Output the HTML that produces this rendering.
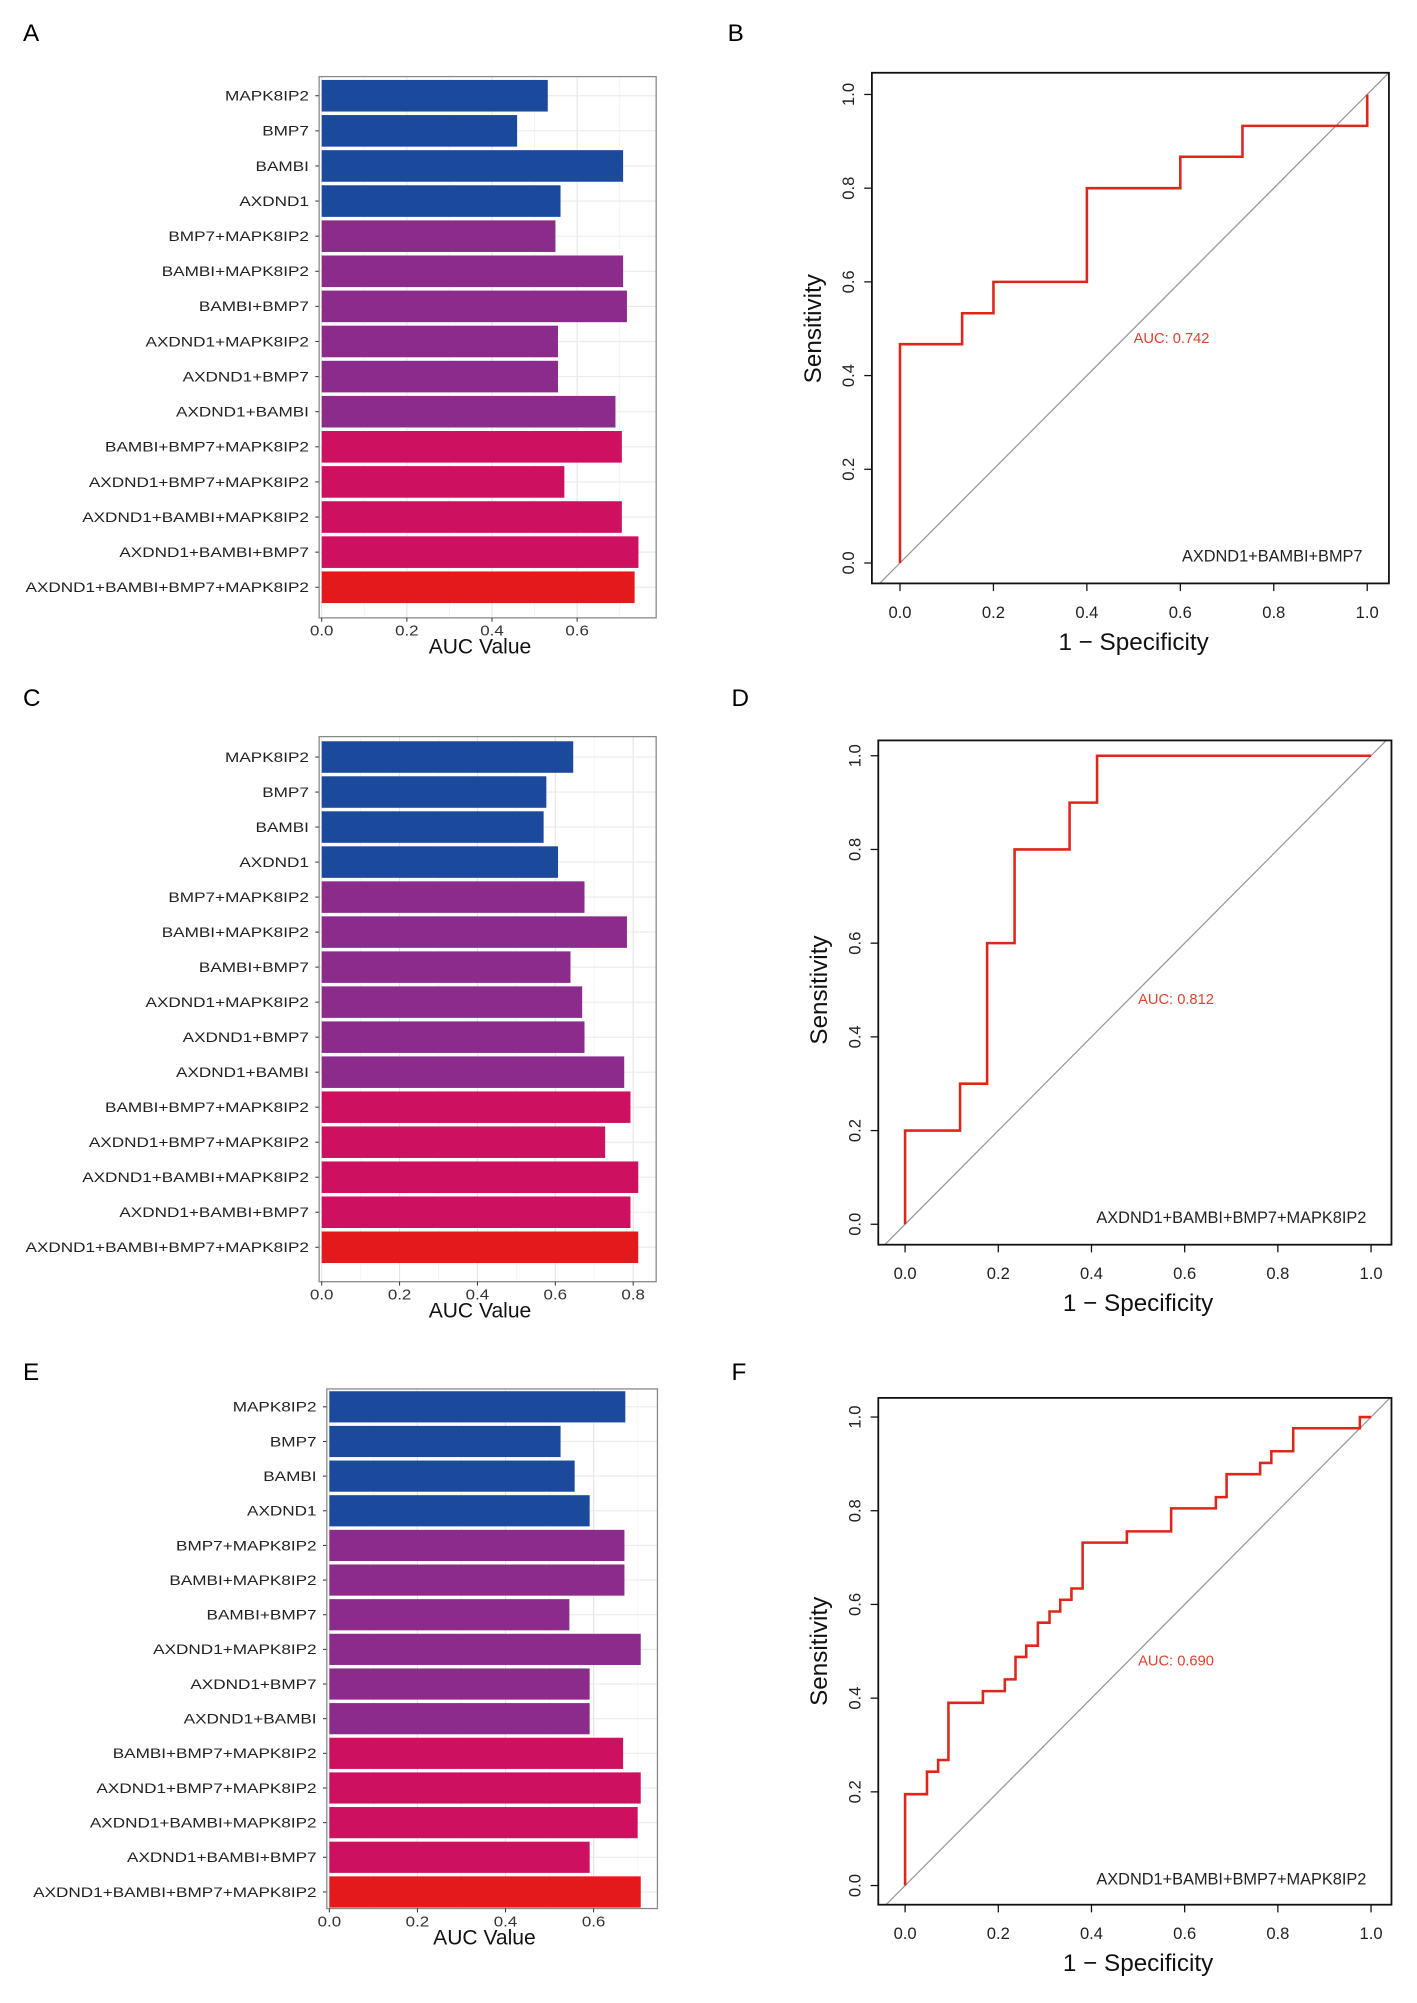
<!DOCTYPE html>
<html><head><meta charset="utf-8"><style>
html,body{margin:0;padding:0;background:#fff;}
svg{display:block;font-family:"Liberation Sans",Arial,sans-serif;}
</style></head><body>
<svg id="fig" width="1417" height="2003" viewBox="0 0 1110 1569" preserveAspectRatio="none" xmlns="http://www.w3.org/2000/svg">
<rect width="1110" height="1569" fill="#fff"/>
<text x="18" y="32" font-size="19">A</text>
<text x="570" y="32" font-size="19">B</text>
<text x="18" y="553" font-size="19">C</text>
<text x="573" y="553" font-size="19">D</text>
<text x="18" y="1081" font-size="19">E</text>
<text x="573" y="1081" font-size="19">F</text>
</svg>
<script>
const categories = ["MAPK8IP2","BMP7","BAMBI","AXDND1","BMP7+MAPK8IP2","BAMBI+MAPK8IP2","BAMBI+BMP7","AXDND1+MAPK8IP2","AXDND1+BMP7","AXDND1+BAMBI","BAMBI+BMP7+MAPK8IP2","AXDND1+BMP7+MAPK8IP2","AXDND1+BAMBI+MAPK8IP2","AXDND1+BAMBI+BMP7","AXDND1+BAMBI+BMP7+MAPK8IP2"];
const groupOfCategory = [0,0,0,0,1,1,1,1,1,1,2,2,2,2,3];
const aucA = [0.531,0.459,0.708,0.561,0.549,0.708,0.717,0.555,0.555,0.690,0.705,0.570,0.705,0.744,0.735];
const aucC = [0.646,0.577,0.570,0.607,0.675,0.784,0.639,0.669,0.675,0.777,0.793,0.728,0.813,0.793,0.813];
const aucE = [0.672,0.525,0.557,0.591,0.670,0.670,0.545,0.707,0.591,0.591,0.667,0.707,0.700,0.591,0.707];
const barTicksA = [0,0.2,0.4,0.6];
const barTicksC = [0,0.2,0.4,0.6,0.8];
const barTicksE = [0,0.2,0.4,0.6];
const rocFprB = [0,0,0.133,0.133,0.2,0.2,0.4,0.4,0.6,0.6,0.733,0.733,1,1];
const rocTprB = [0,0.467,0.467,0.533,0.533,0.6,0.6,0.8,0.8,0.867,0.867,0.933,0.933,1];
const rocFprD = [0,0,0.118,0.118,0.176,0.176,0.235,0.235,0.353,0.353,0.412,0.412,1];
const rocTprD = [0,0.2,0.2,0.3,0.3,0.6,0.6,0.8,0.8,0.9,0.9,1,1];
const rocFprF = [0,0,0.047,0.047,0.071,0.071,0.093,0.093,0.167,0.167,0.214,0.214,0.237,0.237,0.26,0.26,0.285,0.285,0.31,0.31,0.333,0.333,0.357,0.357,0.381,0.381,0.476,0.476,0.571,0.571,0.667,0.667,0.69,0.69,0.762,0.762,0.786,0.786,0.833,0.833,0.976,0.976,1];
const rocTprF = [0,0.195,0.195,0.243,0.243,0.268,0.268,0.39,0.39,0.415,0.415,0.44,0.44,0.488,0.488,0.512,0.512,0.561,0.561,0.585,0.585,0.61,0.61,0.634,0.634,0.732,0.732,0.756,0.756,0.805,0.805,0.829,0.829,0.878,0.878,0.902,0.902,0.927,0.927,0.976,0.976,1,1];
const rocTicks = [0,0.2,0.4,0.6,0.8,1.0];
const aucLabels = ["AUC: 0.742","AUC: 0.812","AUC: 0.690"];
const modelLabels = ["AXDND1+BAMBI+BMP7","AXDND1+BAMBI+BMP7+MAPK8IP2","AXDND1+BAMBI+BMP7+MAPK8IP2"];

const NS="http://www.w3.org/2000/svg";
const svg=document.getElementById('fig');
function mk(tag,attrs,parent){const e=document.createElementNS(NS,tag);for(const k in attrs)e.setAttribute(k,attrs[k]);(parent||svg).appendChild(e);return e;}
function stretch(t,f){const w=t.getComputedTextLength();if(w>0){t.setAttribute('textLength',(w*f).toFixed(1));t.setAttribute('lengthAdjust','spacingAndGlyphs');}}
const barColors=["#1b4a9c","#8b2c8c","#cd1060","#e3191c"];

function barChart(id,values,ticks,f){
  const g=mk('g',{});
  
  
  const x=v=>f.x0+v*f.ppu;
  const n=categories.length;
  const step=(f.yLast-f.yFirst)/(n-1);
  const y=i=>f.yFirst+i*step;
  mk('rect',{x:f.l,y:f.t,width:f.r-f.l,height:f.b-f.t,fill:'#fff'},g);
  for(let v=0.1;x(v)<f.r;v+=0.2){mk('line',{x1:x(v),x2:x(v),y1:f.t,y2:f.b,stroke:'#f2f2f2','stroke-width':0.6},g);}
  ticks.forEach(v=>{const l=mk('line',{x1:x(v),x2:x(v),y1:f.t,y2:f.b,stroke:'#e6e6e6','stroke-width':0.9},g);
    
    });
  categories.forEach((c,i)=>{mk('line',{x1:f.l,x2:f.r,y1:y(i),y2:y(i),stroke:'#ebebeb','stroke-width':0.9},g);});
  categories.forEach((c,i)=>{
    const r=mk('rect',{x:x(0),y:y(i)-step*0.45,width:x(values[i])-x(0),height:step*0.9,fill:barColors[groupOfCategory[i]]},g);
    
    
    const t=mk('text',{x:f.l-8,y:y(i)+3.8,'font-size':10.5,'text-anchor':'end',fill:'#222'},g);
    t.textContent=c;
    
    
    stretch(t,1.28);
    mk('line',{x1:f.l-3,x2:f.l,y1:y(i),y2:y(i),stroke:'#333','stroke-width':0.8},g);
  });
  mk('rect',{x:f.l,y:f.t,width:f.r-f.l,height:f.b-f.t,fill:'none',stroke:'#888','stroke-width':1},g);
  ticks.forEach(v=>{
    mk('line',{x1:x(v),x2:x(v),y1:f.b,y2:f.b+3,stroke:'#333','stroke-width':0.8},g);
    const t=mk('text',{x:x(v),y:f.b+14,'font-size':11.5,'text-anchor':'middle',fill:'#333'},g);
    t.textContent=v.toFixed(1);
    
    
    stretch(t,1.15);
  });
  const at=mk('text',{x:(f.l+f.r)/2-6,y:f.b+28,'font-size':16.5,'text-anchor':'middle',fill:'#111'},g);
  at.textContent='AUC Value';
  
  
}
barChart('a',aucA,barTicksA,{l:250,r:514,t:60,b:484,x0:252,ppu:333.5,yFirst:75,yLast:460});
barChart('c',aucC,barTicksC,{l:250,r:514,t:577,b:1004,x0:252,ppu:305,yFirst:593,yLast:977});
barChart('e',aucE,barTicksE,{l:256,r:515,t:1088,b:1495,x0:258,ppu:345,yFirst:1102,yLast:1482});

function rocChart(id,fpr,tpr,auc,model,f){
  const g=mk('g',{});
  
  
  const x=v=>f.x0+v*(f.x1-f.x0);
  const y=v=>f.y0+v*(f.y1-f.y0);
  const cp='clip-'+id;
  const cl=mk('clipPath',{id:cp},g);mk('rect',{x:f.l,y:f.t,width:f.r-f.l,height:f.b-f.t},cl);
  const d=mk('line',{x1:x(-0.1),y1:y(-0.1),x2:x(1.1),y2:y(1.1),stroke:'#999','stroke-width':1,'clip-path':'url(#'+cp+')'},g);
  
  
  const pts=fpr.map((v,i)=>x(v).toFixed(2)+','+y(tpr[i]).toFixed(2)).join(' ');
  const pl=mk('polyline',{points:pts,fill:'none',stroke:'#e0261a','stroke-width':2},g);
  
  
  mk('rect',{x:f.l,y:f.t,width:f.r-f.l,height:f.b-f.t,fill:'none',stroke:'#111','stroke-width':1.4},g);
  rocTicks.forEach(v=>{
    mk('line',{x1:x(v),x2:x(v),y1:f.b,y2:f.b+6,stroke:'#111','stroke-width':1},g);
    const t=mk('text',{x:x(v),y:f.b+27,'font-size':13,'text-anchor':'middle',fill:'#222'},g);
    t.textContent=v.toFixed(1);
    
    
    mk('line',{x1:f.l-6,x2:f.l,y1:y(v),y2:y(v),stroke:'#111','stroke-width':1},g);
    const yy=y(v);
    const u=mk('text',{x:f.l-14,y:yy,'font-size':13,'text-anchor':'middle',fill:'#222',transform:'rotate(-90 '+(f.l-14)+' '+yy+')'},g);
    u.textContent=v.toFixed(1);
    
    
  });
  const xt=mk('text',{x:x(0.5),y:f.b+52,'font-size':19,'text-anchor':'middle',fill:'#111'},g);
  xt.textContent='1 \u2212 Specificity';
  
  
  const cx=f.l-40, cy=y(0.5);
  const yt=mk('text',{x:cx,y:cy,'font-size':19,'text-anchor':'middle',fill:'#111',transform:'rotate(-90 '+cx+' '+cy+')'},g);
  yt.textContent='Sensitivity';
  
  
  const a=mk('text',{x:x(0.5),y:y(0.47),'font-size':11.5,fill:'#e0402f'},g);
  a.textContent=auc;
  
  
  const m=mk('text',{x:x(0.99),y:y(0.0)-1,'font-size':12.8,'text-anchor':'end',fill:'#222'},g);
  m.textContent=model;
  
  
}
rocChart('b',rocFprB,rocTprB,aucLabels[0],modelLabels[0],{l:683,r:1088,t:57,b:457,x0:705,x1:1071,y0:441,y1:74});
rocChart('d',rocFprD,rocTprD,aucLabels[1],modelLabels[1],{l:688,r:1090,t:580,b:975,x0:709,x1:1074,y0:959,y1:592});
rocChart('f',rocFprF,rocTprF,aucLabels[2],modelLabels[2],{l:688,r:1090,t:1095,b:1492,x0:709,x1:1074,y0:1477,y1:1110});
</script>
</body></html>
